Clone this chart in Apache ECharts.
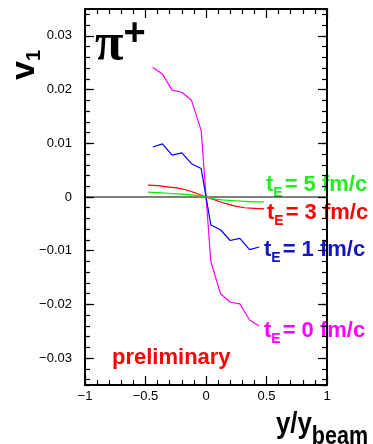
<!DOCTYPE html>
<html>
<head>
<meta charset="utf-8">
<script src="https://cdn.jsdelivr.net/npm/echarts@6/dist/echarts.min.js"></script>
<style>
  html, body { margin: 0; padding: 0; background: #fff; }
  #chart { width: 373px; height: 444px; }
</style>
</head>
<body>
<div id="chart"></div>
<script>
// rapidity grid (y/y_beam) of the coarse curves
const rapidity = [-0.44, -0.36, -0.28, -0.2, -0.12, -0.04, 0.04, 0.12, 0.2, 0.28, 0.36, 0.44]
// v1 for t_E = 0 fm/c
const v1T0 = [0.0241, 0.0229, 0.0199, 0.0195, 0.018, 0.0124, -0.012, -0.018, -0.0196, -0.0199, -0.0229, -0.024]
// v1 for t_E = 1 fm/c
const v1T1 = [0.0093, 0.0099, 0.0078, 0.0082, 0.0062, 0.0053, -0.0052, -0.0061, -0.0081, -0.0077, -0.0098, -0.0093]
// rapidity grid of the smooth curves
const rapidityFine = [-0.48, -0.4, -0.32, -0.24, -0.16, -0.08, 0, 0.08, 0.16, 0.24, 0.32, 0.4, 0.48]
// v1 for t_E = 3 fm/c
const v1T3 = [0.0022, 0.0021, 0.0019, 0.0017, 0.0013, 0.0007, 0, -0.0006, -0.0012, -0.0017, -0.002, -0.0021, -0.0022]
// v1 for t_E = 5 fm/c
const v1T5 = [0.0009, 0.0008, 0.0007, 0.0006, 0.0005, 0.0003, 0, -0.0004, -0.0006, -0.0007, -0.0008, -0.0009, -0.0009]
// reference line
const zeroLine = [[-1, 0], [1, 0]]
// tick labels
const xTickLabels = [-1, -0.5, 0, 0.5, 1]
const yTickLabels = [-0.03, -0.02, -0.01, 0, 0.01, 0.02, 0.03]

const FONT = '"Liberation Sans", Arial, sans-serif'

const pair = (xs, ys) => xs.map((x, i) => [x, ys[i]])
const fmt = (v) => String(v).replace('-', '\u2212')

const mChart = echarts.init(document.getElementById('chart'))

// common axis style
const frameLine = { show: true, onZero: false, lineStyle: { color: '#000', width: 2 } }

const xAxisBase = (pos, labels) => ({
  type: 'value',
  position: pos,
  min: -1,
  max: 1,
  interval: 0.5,
  axisLine: frameLine,
  axisTick: { show: true, inside: true, length: 9, lineStyle: { color: '#000', width: 1.2 } },
  minorTick: { show: true, splitNumber: 5, length: 5, lineStyle: { color: '#000', width: 1.2 } },
  splitLine: { show: false },
  axisLabel: {
    show: labels,
    margin: 5,
    color: '#000',
    fontSize: 13,
    fontFamily: FONT,
    formatter: (v) => (xTickLabels.includes(v) ? fmt(v) : '')
  }
})

// major ticks (labels) and minor ticks (0.002 steps) on separate axes
const yAxisMajor = (pos, labels) => ({
  type: 'value',
  position: pos,
  min: -0.035,
  max: 0.035,
  splitNumber: 7,
  axisLine: frameLine,
  axisTick: { show: true, inside: true, length: 9, lineStyle: { color: '#000', width: 1.2 } },
  splitLine: { show: false },
  axisLabel: {
    show: labels,
    margin: 13,
    color: '#000',
    fontSize: 13,
    fontFamily: FONT,
    showMinLabel: false,
    showMaxLabel: false,
    formatter: (v) => {
      const r = Math.round(v * 1000) / 1000
      return yTickLabels.includes(r) ? fmt(r) : ''
    }
  }
})
const yAxisMinor = (pos) => ({
  type: 'value',
  position: pos,
  min: -0.035,
  max: 0.035,
  splitNumber: 35,
  axisLine: { show: false, onZero: false },
  axisTick: { show: true, inside: true, length: 5, lineStyle: { color: '#000', width: 1.2 } },
  splitLine: { show: false },
  axisLabel: { show: false }
})

const curve = (name, data, color) => ({
  name,
  type: 'line',
  data,
  symbol: 'none',
  silent: true,
  z: 3,
  lineStyle: { color, width: 1.2 }
})

// label helper: t_E = n fm/c
const tLabel = (n, color, left, top) => ({
  type: 'text',
  left,
  top,
  style: {
    text: '{t|t}{s|E}{r|= ' + n + ' fm/c}',
    fill: color,
    rich: {
      t: { fontSize: 22, fontWeight: 'bold', fontFamily: FONT, fill: color, verticalAlign: 'top' },
      s: { fontSize: 14, fontWeight: 'bold', fontFamily: FONT, fill: color, verticalAlign: 'top', padding: [12, 2, 0, 0] },
      r: { fontSize: 22, fontWeight: 'bold', fontFamily: FONT, fill: color, verticalAlign: 'top' }
    }
  }
})

const option = {
  animation: false,
  backgroundColor: '#fff',
  grid: { left: 85, right: 46, top: 9, bottom: 59, containLabel: false },
  xAxis: [xAxisBase('bottom', true), xAxisBase('top', false)],
  yAxis: [yAxisMajor('left', true), yAxisMinor('left'), yAxisMajor('right', false), yAxisMinor('right')],
  series: [
    {
      type: 'line',
      data: zeroLine,
      symbol: 'none',
      silent: true,
      z: 2,
      lineStyle: { color: '#000', width: 1.2 }
    },
    curve('t_E = 0 fm/c', pair(rapidity, v1T0), '#ff00ff'),
    curve('t_E = 1 fm/c', pair(rapidity, v1T1), '#0000ff'),
    curve('t_E = 3 fm/c', pair(rapidityFine, v1T3), '#ff0000'),
    curve('t_E = 5 fm/c', pair(rapidityFine, v1T5), '#00ee00')
  ],
  graphic: [
    tLabel(5, '#22ee22', 266, 174),
    tLabel(3, '#ff0000', 267, 202),
    tLabel(1, '#1414c0', 264, 239),
    tLabel(0, '#ff00ff', 264, 320),
    {
      type: 'text',
      left: 112,
      top: 347,
      style: { text: 'preliminary', fill: '#ff0000', font: 'bold 22px ' + FONT }
    },
    {
      type: 'text',
      left: 95,
      top: 16,
      style: {
        text: '{p|\u03c0}{s|+}',
        rich: {
          p: { fontSize: 52, fontWeight: 'bold', fontFamily: '"Liberation Serif", serif', fill: '#000', verticalAlign: 'top', padding: [4, 0, 0, 0] },
          s: { fontSize: 38, fontWeight: 'bold', fontFamily: FONT, fill: '#000', verticalAlign: 'top' }
        }
      }
    },
    {
      type: 'text',
      x: 8,
      y: 80,
      rotation: Math.PI / 2,
      style: {
        text: '{v|v}{s|1}',
        rich: {
          v: { fontSize: 34, fontWeight: 'bold', fontFamily: FONT, fill: '#000', verticalAlign: 'top' },
          s: { fontSize: 20, fontWeight: 'bold', fontFamily: FONT, fill: '#000', verticalAlign: 'top', padding: [16, 0, 0, 0] }
        }
      }
    },
    {
      type: 'text',
      x: 276,
      y: 410,
      scaleX: 0.86,
      style: {
        text: '{y|y/y}{s|beam}',
        rich: {
          y: { fontSize: 30, fontWeight: 'bold', fontFamily: FONT, fill: '#000', verticalAlign: 'top' },
          s: { fontSize: 25, fontWeight: 'bold', fontFamily: FONT, fill: '#000', verticalAlign: 'top', padding: [15, 0, 0, 0] }
        }
      }
    }
  ]
}

mChart.setOption(option)
</script>
</body>
</html>
